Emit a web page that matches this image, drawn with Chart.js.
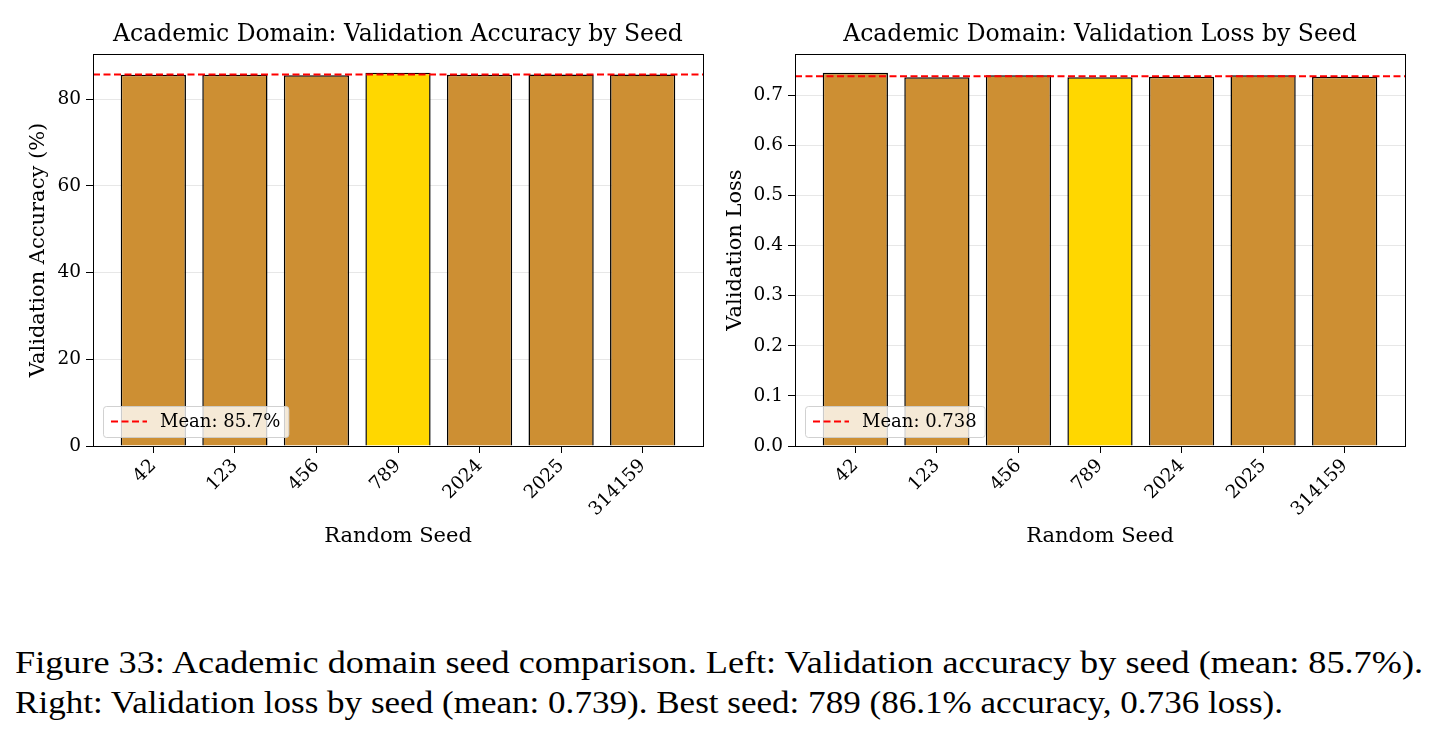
<!DOCTYPE html>
<html>
<head>
<meta charset="utf-8">
<script src="https://cdn.jsdelivr.net/npm/chart.js@4.4.1/dist/chart.umd.min.js"></script>
<style>
  body { margin: 0; background: #fff; width: 1440px; height: 737px; overflow: hidden; position: relative; }
  canvas { position: absolute; top: 0; }
  #accChart { left: 0; }
  #lossChart { left: 702px; }
  .caption { position: absolute; left: 15px; font-family: "Liberation Serif", serif; font-size: 31px; line-height: 40px; white-space: nowrap; transform-origin: left center; color: #000; }
</style>
</head>
<body>
<canvas id="accChart" width="796" height="560"></canvas>
<canvas id="lossChart" width="796" height="560"></canvas>
<div class="caption" id="cap1" style="top:643px">Figure 33: Academic domain seed comparison. Left: Validation accuracy by seed (mean: 85.7%).</div>
<div class="caption" id="cap2" style="top:683px">Right: Validation loss by seed (mean: 0.739). Best seed: 789 (86.1% accuracy, 0.736 loss).</div>
<script>
// データ
const seeds = ['42', '123', '456', '789', '2024', '2025', '314159'];
const accuracy = [85.6, 85.6, 85.5, 86.1, 85.6, 85.7, 85.7];
const loss = [0.745, 0.736, 0.740, 0.736, 0.737, 0.740, 0.737];
const accMean = 85.7;
const lossMean = 0.738;
const bestSeed = '789';

const serif = '"DejaVu Serif", serif';
const barColors = seeds.map(s => s === bestSeed ? '#FFD700' : '#CD8F33');
const xMin = -0.74, xMax = 6.74;

// 凡例とグラフ枠を描く
const frameAndLegend = {
    id: 'frameAndLegend',
    afterDraw(chart) {
        const ctx = chart.ctx;
        const a = chart.chartArea;
        ctx.save();
        // legend box
        const label = chart.data.datasets[0].label;
        ctx.font = '18px ' + serif;
        const tw = ctx.measureText(label).width;
        const bx = a.left + 10, by = a.bottom - 40, bw = 57 + tw + 8, bh = 31;
        ctx.fillStyle = 'rgba(255,255,255,0.8)';
        ctx.strokeStyle = 'rgba(204,204,204,0.9)';
        ctx.lineWidth = 1;
        ctx.beginPath();
        ctx.roundRect(bx + 0.5, by + 0.5, bw, bh, 3);
        ctx.fill();
        ctx.stroke();
        ctx.strokeStyle = '#FF0000';
        ctx.lineWidth = 2;
        ctx.setLineDash([7, 3.5]);
        ctx.beginPath();
        ctx.moveTo(bx + 8, by + bh / 2);
        ctx.lineTo(bx + 44, by + bh / 2);
        ctx.stroke();
        ctx.setLineDash([]);
        ctx.fillStyle = '#000';
        ctx.textBaseline = 'middle';
        ctx.fillText(label, bx + 57, by + bh / 2 + 1);
        // frame
        ctx.strokeStyle = '#000';
        ctx.lineWidth = 1;
        ctx.strokeRect(a.left + 0.5, a.top + 0.5, a.right - a.left, a.bottom - a.top);
        ctx.restore();
    }
};

function makeChart(id, values, mean, meanLabel, title, yTitle, yStep, yFmt, yTitlePad) {
    const yMax = Math.max(...values) * 1.05;
    return new Chart(document.getElementById(id), {
        type: 'bar',
        data: {
            datasets: [{
                type: 'line',
                label: meanLabel,
                data: [{x: xMin, y: mean}, {x: xMax, y: mean}],
                borderColor: '#FF0000',
                borderWidth: 2,
                borderDash: [7, 3.5],
                pointRadius: 0,
                order: 0,
            }, {
                type: 'bar',
                label: yTitle,
                data: values.map((v, i) => ({x: i, y: v})),
                backgroundColor: barColors,
                borderColor: '#000',
                borderWidth: 1.5,
                barPercentage: 0.8,
                categoryPercentage: 1,
                order: 1,
            }]
        },
        options: {
            responsive: false,
            animation: false,
            devicePixelRatio: 1,
            layout: { padding: 0 },
            plugins: {
                legend: { display: false },
                tooltip: { enabled: false },
                title: {
                    display: true,
                    text: title,
                    color: '#000',
                    font: { family: serif, size: 23.5, weight: 'normal' },
                    padding: { top: 20.9, bottom: 4.9 },
                },
            },
            scales: {
                x: {
                    type: 'linear',
                    offset: false,
                    min: xMin,
                    max: xMax,
                    afterBuildTicks: (scale) => { scale.ticks = seeds.map((s, i) => ({value: i})); },
                    afterFit: (scale) => { scale.height = 114; },
                    ticks: {
                        callback: (v) => seeds[v],
                        autoSkip: false,
                        minRotation: 45,
                        maxRotation: 45,
                        color: '#000',
                        font: { family: serif, size: 18.5 },
                        padding: 2,
                    },
                    grid: { offset: false, drawOnChartArea: false, tickColor: '#000', tickLength: 7 },
                    border: { color: '#000' },
                    title: {
                        display: true,
                        text: 'Random Seed',
                        color: '#000',
                        font: { family: serif, size: 21 },
                        padding: { top: 0, bottom: 10.4 },
                    },
                },
                y: {
                    min: 0,
                    max: yMax,
                    afterFit: (scale) => { scale.width = 93; },
                    ticks: {
                        stepSize: yStep,
                        includeBounds: false,
                        callback: yFmt,
                        color: '#000',
                        font: { family: serif, size: 18.5 },
                        padding: 5,
                    },
                    grid: { color: 'rgba(176,176,176,0.3)', tickColor: '#000', tickLength: 7 },
                    border: { color: '#000' },
                    title: {
                        display: true,
                        text: yTitle,
                        color: '#000',
                        font: { family: serif, size: 21 },
                        padding: { top: yTitlePad, bottom: 0 },
                    },
                },
                // 右側の余白（タイトルを軸の中央に置くため）
                yRight: {
                    position: 'right',
                    min: 0,
                    max: 1,
                    afterFit: (scale) => { scale.width = 93; },
                    ticks: { display: false },
                    grid: { display: false },
                    border: { display: false },
                },
            },
        },
        plugins: [frameAndLegend],
    });
}

makeChart('accChart', accuracy, accMean, 'Mean: ' + accMean.toFixed(1) + '%',
    'Academic Domain: Validation Accuracy by Seed', 'Validation Accuracy (%)', 20, (v) => v.toFixed(0), 26);
makeChart('lossChart', loss, lossMean, 'Mean: ' + lossMean.toFixed(3),
    'Academic Domain: Validation Loss by Seed', 'Validation Loss', 0.1, (v) => v.toFixed(1), 21.4);

// キャプションの幅を合わせる
[['cap1', 1408], ['cap2', 1268]].forEach(([id, w]) => {
    const el = document.getElementById(id);
    const r = w / el.getBoundingClientRect().width;
    el.style.transform = 'scaleX(' + r + ')';
});
</script>
</body>
</html>
